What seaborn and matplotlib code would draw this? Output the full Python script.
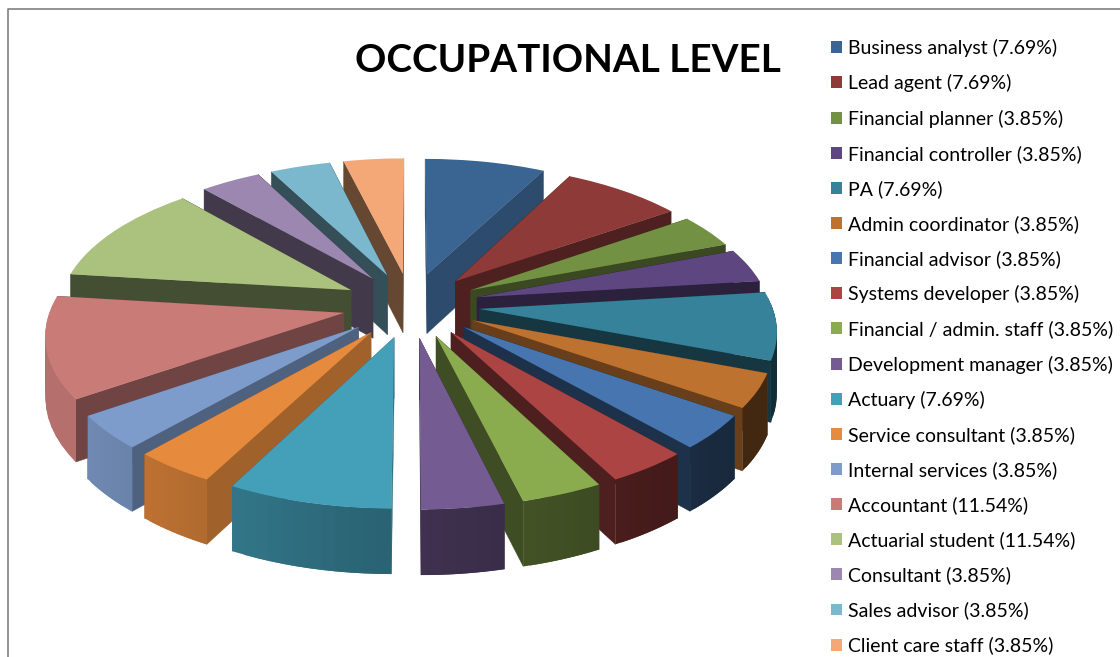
import numpy as np
import seaborn as sns
import matplotlib.pyplot as plt
from matplotlib.patches import Polygon
from matplotlib.transforms import Transform

categories = ['Business analyst', 'Lead agent', 'Financial planner', 'Financial controller',
              'PA', 'Admin coordinator', 'Financial advisor', 'Systems developer',
              'Financial / admin. staff', 'Development manager', 'Actuary', 'Service consultant',
              'Internal services', 'Accountant', 'Actuarial student', 'Consultant',
              'Sales advisor', 'Client care staff']
shares = [7.69, 7.69, 3.85, 3.85, 7.69, 3.85, 3.85, 3.85, 3.85, 3.85,
          7.69, 3.85, 3.85, 11.54, 11.54, 3.85, 3.85, 3.85]
slice_colors = ['#3A6491', '#8E3A38', '#739142', '#5E4780', '#35829A', '#BD7230',
                '#4675AF', '#AB4442', '#8AAB4E', '#745B92', '#449FB9', '#E68A3D',
                '#7E9CCB', '#C97B78', '#ABC27F', '#9C87B0', '#7BB8CE', '#F4A877']
# how dark the cut faces are compared to the top of each slice
cut_shade = [.75, .55, .5, .47, .42, .55, .42, .45, .45, .5,
             .7, .7, .62, .55, .4, .42, .43, .42]

TITLE = 'OCCUPATIONAL LEVEL'
EXPLODE = 0.19
RADIUS = 0.81
CX, CY = 411, 305
RX, RY = 361, 171
TILT = 0.165
DEPTH = 60


def project(x, y, z=0.0):
    s = 1 / (1 + TILT * y)
    return CX + RX * x * s, CY - RY * y * s + DEPTH * z * np.sqrt(s)


class Tilted(Transform):
    input_dims = 2
    output_dims = 2

    def transform_non_affine(self, values):
        values = np.asarray(values)
        return np.column_stack(project(values[:, 0], values[:, 1]))


def wall(p, q, color, zorder, ax, lw=0.3):
    pts = [project(*p), project(*q), project(*q, 1), project(*p, 1)]
    ax.add_patch(Polygon(pts, facecolor=color, edgecolor=color, linewidth=lw, zorder=zorder))


def rim_point(w, angle):
    rad = np.radians(angle)
    return w.center[0] + w.r * np.cos(rad), w.center[1] + w.r * np.sin(rad)


def rim_shade(x):
    # left side of the pie catches the light, right side is in shadow
    if x < 0:
        return min(0.60 - 0.35 * x, 0.9)
    return max(0.55 - 0.25 * x, 0.35)


sns.set_theme(style='white')
plt.rcParams['font.family'] = ['Lato', 'DejaVu Sans']
palette = sns.color_palette(slice_colors)

fig = plt.figure(figsize=(11.2, 6.57), dpi=100)
ax = fig.add_axes([0, 0, 1, 1])

wedges, _ = ax.pie(shares, explode=[EXPLODE] * len(shares), radius=RADIUS, startangle=90,
                   counterclock=False, colors=palette, wedgeprops={'linewidth': 0})
ax.set_aspect('auto')
ax.set_xlim(0, 1120)
ax.set_ylim(657, 0)
ax.axis('off')

tilted = Tilted() + ax.transData
order = sorted(range(len(wedges)), key=lambda i: -rim_point(wedges[i], (wedges[i].theta1 + wedges[i].theta2) / 2)[1])

for rank, i in enumerate(order):
    w = wedges[i]
    base = np.array(palette[i])
    z = 2 * rank + 2
    cut = tuple(base * cut_shade[i])
    wall(w.center, rim_point(w, w.theta1), cut, z, ax)
    wall(w.center, rim_point(w, w.theta2), cut, z, ax)
    # outer face, back facing parts are skipped
    steps = np.linspace(w.theta1, w.theta2, 13)
    for k in range(len(steps) - 1):
        a, b = steps[k], steps[min(k + 2, len(steps) - 1)]
        if np.sin(np.radians((a + b) / 2)) > 0.05:
            continue
        p, q = rim_point(w, a), rim_point(w, b)
        wall(p, q, tuple(base * rim_shade((p[0] + q[0]) / 2)), z + 0.01 * k + 0.5, ax, lw=0)
    w.set_transform(tilted)
    w.set_zorder(z + 1)

ax.plot([7.5, 7.5, 1120], [657, 9, 9], color='#808080', linewidth=1.2, zorder=100)

ax.text(567.5, 61, TITLE, ha='center', va='center', fontsize=27.8, fontweight='bold',
        color='black', zorder=101)

labels = [f'{name} ({value:.2f}%)' for name, value in zip(categories, shares)]
ax.legend(wedges, labels, loc='upper left', bbox_to_anchor=(831, 39), bbox_transform=ax.transData,
          frameon=False, fontsize=14.05, labelspacing=0.881, handlelength=0.56, handleheight=0.56,
          handletextpad=0.31, borderpad=0, borderaxespad=0, labelcolor='black')

fig.savefig('out.png', dpi=100)
